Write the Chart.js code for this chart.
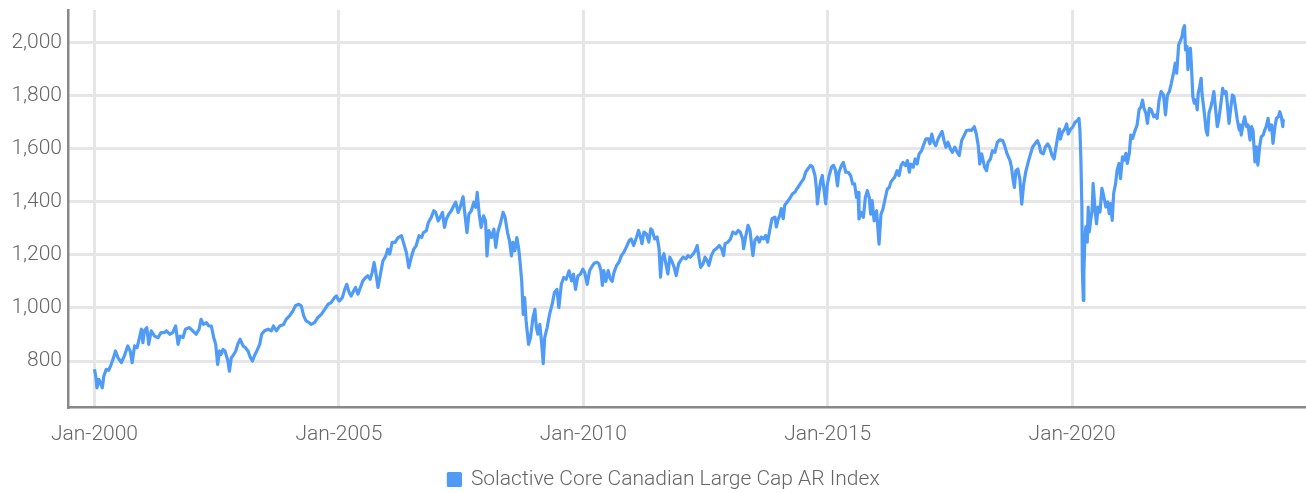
<!DOCTYPE html>
<html>
<head>
<meta charset="utf-8">
<script src="https://cdn.jsdelivr.net/npm/chart.js@4"></script>
<style>
  html, body { margin: 0; padding: 0; background: #ffffff; }
  #wrap { width: 1306px; height: 493px; position: relative; }
</style>
</head>
<body>
<div id="wrap"><canvas id="chart" width="1306" height="493"></canvas></div>
<script>
// Observation dates as decimal years
const years = [
  2000.00,2000.03,2000.05,2000.09,2000.12,2000.16,2000.19,2000.24,2000.29,2000.34,2000.39,2000.43,2000.48,2000.55,2000.61,2000.68,2000.73,2000.77,2000.82,2000.87,2000.92,2000.96,2000.99,
  2001.02,2001.07,2001.11,2001.16,2001.23,2001.30,2001.36,2001.43,2001.47,2001.54,2001.60,2001.66,2001.71,2001.75,2001.81,2001.86,2001.94,
  2002.01,2002.08,2002.14,2002.18,2002.23,2002.29,2002.34,2002.39,2002.44,2002.48,2002.52,2002.56,2002.59,2002.63,2002.67,2002.73,2002.76,2002.80,2002.83,2002.89,2002.93,2002.98,
  2003.04,2003.09,2003.14,2003.19,2003.23,2003.27,2003.32,2003.38,2003.42,2003.48,2003.55,2003.62,2003.66,2003.72,2003.79,2003.87,2003.92,2003.99,
  2004.06,2004.11,2004.18,2004.23,2004.28,2004.33,2004.39,2004.43,2004.50,2004.57,2004.64,2004.71,2004.78,2004.84,2004.91,2004.95,2004.98,
  2005.01,2005.07,2005.12,2005.16,2005.21,2005.25,2005.30,2005.34,2005.39,2005.44,2005.49,2005.55,2005.59,2005.64,2005.68,2005.72,2005.75,2005.80,2005.85,2005.90,2005.96,
  2006.00,2006.04,2006.09,2006.15,2006.21,2006.28,2006.32,2006.38,2006.43,2006.48,2006.53,2006.58,2006.64,2006.69,2006.73,2006.79,2006.83,2006.89,2006.94,2006.98,
  2007.03,2007.07,2007.12,2007.16,2007.20,2007.25,2007.30,2007.35,2007.39,2007.44,2007.48,2007.54,2007.57,2007.62,2007.66,2007.71,2007.76,2007.80,2007.83,2007.87,2007.91,2007.96,
  2008.00,2008.03,2008.07,2008.12,2008.17,2008.21,2008.25,2008.30,2008.36,2008.40,2008.45,2008.49,2008.53,2008.56,2008.60,2008.64,2008.68,2008.71,2008.74,2008.77,2008.80,2008.83,2008.88,2008.92,2008.97,
  2009.01,2009.04,2009.07,2009.11,2009.15,2009.18,2009.21,2009.26,2009.31,2009.37,2009.41,2009.46,2009.50,2009.55,2009.60,2009.65,2009.71,2009.76,2009.80,2009.84,2009.89,2009.94,2009.99,
  2010.03,2010.08,2010.13,2010.19,2010.23,2010.28,2010.32,2010.36,2010.39,2010.42,2010.46,2010.51,2010.55,2010.59,2010.63,2010.68,2010.73,2010.78,2010.83,2010.88,2010.94,2010.98,
  2011.03,2011.09,2011.13,2011.17,2011.20,2011.24,2011.29,2011.34,2011.38,2011.41,2011.46,2011.51,2011.55,2011.58,2011.61,2011.65,2011.69,2011.73,2011.77,2011.82,2011.86,2011.90,2011.95,2011.99,
  2012.04,2012.10,2012.14,2012.19,2012.25,2012.29,2012.33,2012.37,2012.40,2012.45,2012.49,2012.53,2012.57,2012.62,2012.67,2012.72,2012.78,2012.83,2012.87,2012.90,2012.96,
  2013.01,2013.06,2013.12,2013.17,2013.21,2013.26,2013.28,2013.32,2013.37,2013.41,2013.44,2013.47,2013.51,2013.56,2013.60,2013.64,2013.69,2013.73,2013.77,2013.82,2013.86,2013.92,2013.95,2013.99,
  2014.02,2014.05,2014.09,2014.12,2014.17,2014.22,2014.28,2014.33,2014.37,2014.42,2014.46,2014.51,2014.55,2014.60,2014.65,2014.69,2014.74,2014.77,2014.79,2014.82,2014.86,2014.89,2014.93,2014.96,2014.99,
  2015.03,2015.08,2015.12,2015.16,2015.20,2015.23,2015.28,2015.32,2015.37,2015.42,2015.47,2015.51,2015.55,2015.59,2015.62,2015.64,2015.68,2015.73,2015.77,2015.81,2015.85,2015.88,2015.91,2015.95,
  2016.00,2016.05,2016.09,2016.13,2016.18,2016.22,2016.26,2016.29,2016.34,2016.37,2016.42,2016.46,2016.50,2016.54,2016.59,2016.63,2016.67,2016.70,2016.75,2016.79,2016.83,2016.87,2016.92,2016.97,
  2017.01,2017.06,2017.09,2017.13,2017.17,2017.21,2017.26,2017.31,2017.34,2017.38,2017.42,2017.46,2017.51,2017.55,2017.60,2017.65,2017.69,2017.74,2017.79,2017.84,2017.89,2017.94,
  2018.00,2018.04,2018.08,2018.11,2018.15,2018.18,2018.21,2018.25,2018.28,2018.33,2018.37,2018.42,2018.47,2018.52,2018.58,2018.62,2018.67,2018.73,2018.76,2018.79,2018.82,2018.85,2018.89,2018.93,2018.97,
  2019.01,2019.05,2019.10,2019.15,2019.19,2019.24,2019.29,2019.33,2019.36,2019.41,2019.45,2019.50,2019.54,2019.59,2019.63,2019.67,2019.71,2019.74,2019.76,2019.80,2019.85,2019.89,2019.92,2019.97,
  2020.01,2020.06,2020.11,2020.14,2020.16,2020.18,2020.20,2020.21,2020.23,2020.24,2020.26,2020.28,2020.31,2020.33,2020.35,2020.38,2020.41,2020.43,2020.47,2020.50,2020.53,2020.57,2020.61,2020.65,2020.69,2020.73,2020.76,2020.79,2020.82,2020.85,2020.89,2020.92,2020.96,2020.99,
  2021.03,2021.07,2021.10,2021.13,2021.17,2021.20,2021.24,2021.28,2021.33,2021.37,2021.41,2021.44,2021.47,2021.51,2021.54,2021.58,2021.62,2021.67,2021.70,2021.74,2021.78,2021.82,2021.87,2021.91,2021.95,2021.99,
  2022.03,2022.08,2022.11,2022.14,2022.18,2022.21,2022.25,2022.27,2022.30,2022.32,2022.35,2022.37,2022.39,2022.42,2022.44,2022.47,2022.50,2022.53,2022.56,2022.58,2022.61,2022.64,2022.66,2022.69,2022.72,2022.74,2022.77,2022.80,2022.84,2022.87,2022.90,2022.93,2022.97,
  2023.00,2023.04,2023.08,2023.11,2023.15,2023.18,2023.21,2023.25,2023.28,2023.31,2023.35,2023.38,2023.42,2023.44,2023.46,2023.50,2023.53,2023.57,2023.60,2023.64,2023.67,2023.70,2023.74,2023.77,2023.80,2023.84,2023.87,2023.91,2023.94,2023.97,
  2024.01,2024.04,2024.08,2024.11,2024.15,2024.18,2024.22,2024.25,2024.28,2024.31,2024.32,2024.34
];

// Index level at each date
const indexLevels = [
  769,737,699,731,718,699,743,769,765,787,813,838,813,794,819,857,838,794,857,850,888,920,869,
  914,926,863,914,894,888,907,907,914,901,907,932,863,894,888,920,926,
  914,901,920,957,938,945,932,932,888,863,787,838,825,844,838,800,762,813,819,838,863,882,
  857,850,838,813,800,819,838,863,901,914,920,914,932,914,932,938,957,970,
  989,1008,1014,1008,970,951,945,938,945,964,976,995,1014,1020,1039,1045,1033,
  1026,1039,1070,1089,1058,1045,1064,1077,1052,1077,1102,1115,1121,1108,1133,1171,1140,1077,1127,1177,1196,
  1221,1203,1247,1247,1265,1272,1247,1209,1152,1190,1221,1234,1272,1265,1284,1291,1322,1341,1366,1360,
  1328,1341,1360,1303,1335,1354,1366,1385,1398,1360,1379,1419,1366,1284,1354,1366,1398,1379,1435,1354,1303,1347,
  1328,1196,1291,1265,1297,1228,1284,1316,1360,1341,1284,1253,1196,1247,1215,1265,1221,1165,1102,976,1039,951,863,888,963,
  995,926,901,938,863,790,888,926,976,1020,1058,1070,1001,1089,1115,1108,1140,1102,1127,1070,1121,1127,1146,
  1133,1089,1141,1160,1169,1172,1166,1141,1085,1141,1100,1141,1110,1100,1135,1160,1172,1197,1210,1229,1254,1260,
  1235,1267,1292,1267,1242,1286,1279,1248,1298,1292,1260,1267,1223,1116,1185,1204,1166,1128,1191,1172,1153,1122,1166,1179,
  1191,1185,1197,1191,1204,1216,1235,1185,1153,1166,1191,1179,1160,1197,1216,1223,1235,1223,1197,1242,1248,
  1260,1286,1279,1292,1286,1260,1223,1267,1311,1292,1242,1197,1254,1267,1248,1267,1260,1273,1248,1298,1336,1342,1305,1336,
  1348,1374,1336,1386,1399,1411,1430,1436,1449,1462,1474,1487,1512,1525,1537,1531,1499,1449,1392,1436,1481,1499,1436,1392,1462,
  1499,1531,1537,1518,1460,1511,1536,1548,1511,1511,1498,1467,1467,1416,1435,1335,1360,1341,1416,1442,1416,1353,1404,1328,
  1366,1240,1353,1372,1416,1448,1454,1473,1486,1492,1517,1498,1536,1548,1536,1555,1511,1542,1530,1561,1542,1580,1592,1618,
  1637,1637,1618,1655,1624,1611,1637,1655,1665,1630,1605,1624,1599,1586,1605,1586,1574,1630,1649,1668,1670,1668,
  1683,1655,1611,1542,1580,1555,1530,1517,1548,1561,1592,1586,1624,1633,1630,1611,1580,1555,1530,1486,1454,1517,1523,1486,1391,
  1467,1511,1548,1580,1605,1618,1630,1611,1586,1580,1605,1618,1605,1574,1561,1605,1649,1674,1636,1661,1674,1693,1655,1674,
  1680,1699,1706,1714,1670,1557,1380,1141,1028,1128,1254,1305,1248,1380,1286,1330,1368,1469,1368,1317,1380,1361,1450,1418,1380,1399,1355,1393,1330,1431,1469,1519,1544,1487,
  1569,1557,1582,1544,1582,1651,1639,1664,1689,1746,1758,1783,1752,1733,1695,1752,1746,1720,1727,1714,1783,1815,1802,1727,1802,1815,
  1846,1890,1922,1884,1991,2004,2023,2048,2063,1972,1985,1897,1960,1978,1916,1796,1771,1783,1746,1808,1834,1865,1802,1758,1708,1670,1651,1733,1758,1783,1815,1758,1683,
  1708,1764,1827,1808,1815,1758,1695,1758,1802,1796,1746,1708,1670,1689,1651,1695,1720,1683,1689,1632,1683,1670,1550,1607,1538,1613,1645,1651,1670,1683,
  1714,1670,1689,1620,1683,1714,1720,1739,1720,1683,1708,1711
];

// Axis tick positions
const xTickYears = [2000, 2005, 2010, 2015, 2020];
const yTickValues = [800, 1000, 1200, 1400, 1600, 1800, 2000];

const seriesName = 'Solactive Core Canadian Large Cap AR Index';
const lineColor = '#4f9bf6';
const textColor = '#666666';
const fontFamily = 'Roboto, "Open Sans", sans-serif';

const points = years.map((t, i) => ({ x: t, y: indexLevels[i] }));

// Move the legend a little right of centre and down towards the bottom edge
const legendShift = {
  id: 'legendShift',
  afterLayout(chart) {
    const lg = chart.legend;
    if (lg) {
      lg.left += 11;
      lg.right += 11;
      lg.top += 7;
      lg.bottom += 7;
    }
  }
};

new Chart(document.getElementById('chart'), {
  type: 'line',
  data: {
    datasets: [{
      label: seriesName,
      data: points,
      borderColor: lineColor,
      backgroundColor: lineColor,
      borderWidth: 3.2,
      pointRadius: 0,
      tension: 0,
      borderJoinStyle: 'round',
      fill: false
    }]
  },
  options: {
    responsive: false,
    animation: false,
    layout: { padding: { top: 10, right: 0, left: 0, bottom: 0 } },
    plugins: {
      legend: {
        position: 'bottom',
        labels: {
          color: textColor,
          boxWidth: 12,
          boxHeight: 12,
          padding: 4,
          font: { family: fontFamily, size: 21, weight: 300 }
        }
      },
      tooltip: { enabled: false }
    },
    scales: {
      x: {
        type: 'linear',
        min: 1999.458,
        max: 2024.785,
        afterBuildTicks: (scale) => { scale.ticks = xTickYears.map(v => ({ value: v })); },
        afterFit: (scale) => { scale.height = 51; },
        ticks: {
          color: textColor,
          padding: 15,
          maxRotation: 0,
          font: { family: fontFamily, size: 21, weight: 300 },
          callback: (v) => 'Jan-' + v
        },
        grid: { color: '#e6e6e6', lineWidth: 3, drawTicks: false },
        border: { display: true, color: '#888888', width: 2.5 }
      },
      y: {
        type: 'linear',
        min: 627,
        max: 2122,
        afterBuildTicks: (scale) => { scale.ticks = yTickValues.map(v => ({ value: v })); },
        afterFit: (scale) => { scale.width = 68; },
        ticks: {
          color: textColor,
          padding: 6,
          font: { family: fontFamily, size: 21, weight: 300, lineHeight: 0.3 },
          callback: (v) => v.toLocaleString('en-US')
        },
        grid: { color: '#e6e6e6', lineWidth: 3, drawTicks: false },
        border: { display: true, color: '#888888', width: 2.5 }
      }
    }
  },
  plugins: [legendShift]
});
</script>
</body>
</html>
